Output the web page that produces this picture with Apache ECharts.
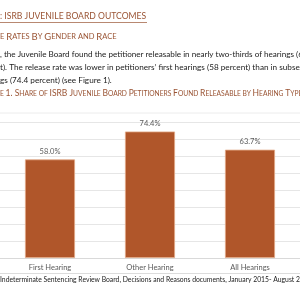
<!DOCTYPE html>
<html>
<head>
<meta charset="utf-8">
<script src="https://cdn.jsdelivr.net/npm/echarts@6/dist/echarts.min.js"></script>
<style>
  html, body { margin: 0; padding: 0; background: #fff; }
  #main { width: 300px; height: 300px; }
</style>
</head>
<body>
<div id="main"></div>
<script>
// 数据
var categories = ['First Hearing', 'Other Hearing', 'All Hearings'];
var releasable = [58.0, 74.4, 63.7];
var yTicks = [0, 10, 20, 30, 40, 50, 60, 70, 80];

(function () {
    var chart = echarts.init(document.getElementById('main'));
    var brown = '#9a5434';
    var font = 'Lato';
    // 小型大写字母样式
    var subRich = {
        b: { fontSize: 9.5, fontFamily: font, fill: brown, color: brown },
        s: { fontSize: 7.5, fontFamily: font, fill: brown, color: brown }
    };
    var capRich = {
        b: { fontSize: 8.5, fontFamily: font, fill: brown, color: brown },
        s: { fontSize: 6.7, fontFamily: font, fill: brown, color: brown }
    };

    var option = {
        animation: false,
        grid: { left: 0, top: 122, width: 314, height: 136 },
        xAxis: {
            type: 'category',
            data: categories,
            axisTick: { show: false },
            axisLine: { lineStyle: { color: '#d9d9d9' } },
            axisLabel: { color: '#595959', fontSize: 7.5, fontFamily: font, margin: 6 }
        },
        yAxis: {
            type: 'value',
            min: yTicks[0],
            max: yTicks[yTicks.length - 1],
            interval: 10,
            axisLabel: { show: false },
            axisLine: { show: false },
            axisTick: { show: false },
            splitLine: { lineStyle: { color: '#e6e6e6' } }
        },
        series: [{
            type: 'bar',
            data: releasable,
            barWidth: '50%',
            itemStyle: { color: '#b0562a', borderColor: '#e2a886', borderWidth: 0.8 },
            label: {
                show: true,
                position: 'top',
                distance: 4,
                color: '#595959',
                fontSize: 7.5,
                fontFamily: font,
                formatter: function (p) { return p.value.toFixed(1) + '%'; }
            }
        }],
        graphic: [
            { type: 'text', left: 0, top: 12, style: {
                text: ': ISRB JUVENILE BOARD OUTCOMES', fill: brown, fontSize: 8.6, fontFamily: font } },
            { type: 'line', shape: { x1: 0, y1: 22.5, x2: 147, y2: 22.5 }, style: { stroke: brown, lineWidth: 0.7 } },
            { type: 'text', left: 0, top: 32, style: {
                text: '{s|E }{b|R}{s|ATES }{b|B}{s|Y }{b|G}{s|ENDER AND }{b|R}{s|ACE}', rich: subRich } },
            { type: 'text', x: 0, y: 54, style: {
                text: ', the Juvenile Board found the petitioner releasable in nearly two-thirds of hearings (63.7 percent)',
                fill: '#222', fontSize: 8.1, fontFamily: font, verticalAlign: 'middle' } },
            { type: 'text', x: 0, y: 67, style: {
                text: 't). The release rate was lower in petitioners\u2019 first hearings (58 percent) than in subsequent',
                fill: '#222', fontSize: 8.2, fontFamily: font, verticalAlign: 'middle' } },
            { type: 'text', x: 0, y: 80, style: {
                text: 'gs (74.4 percent) (see Figure 1).',
                fill: '#222', fontSize: 8.2, fontFamily: font, verticalAlign: 'middle' } },
            { type: 'text', left: 0, top: 89, style: {
                text: '{s|E }{b|1. S}{s|HARE OF }{b|ISRB J}{s|UVENILE }{b|B}{s|OARD }{b|P}{s|ETITIONERS }{b|F}{s|OUND }{b|R}{s|ELEASABLE BY }{b|H}{s|EARING }{b|T}{s|YPE}',
                rich: capRich } },
            { type: 'line', shape: { x1: 0, y1: 113, x2: 300, y2: 113 }, style: { stroke: '#ececec', lineWidth: 1 } },
            { type: 'line', shape: { x1: 0, y1: 273.5, x2: 300, y2: 273.5 }, style: { stroke: '#dcdcdc', lineWidth: 1 } },
            { type: 'text', x: 0, y: 280, style: {
                text: 'Indeterminate Sentencing Review Board, Decisions and Reasons documents, January 2015- August 2019',
                fill: '#222', fontSize: 6.8, fontFamily: font, verticalAlign: 'middle' } }
        ]
    };
    chart.setOption(option);
})();
</script>
</body>
</html>
